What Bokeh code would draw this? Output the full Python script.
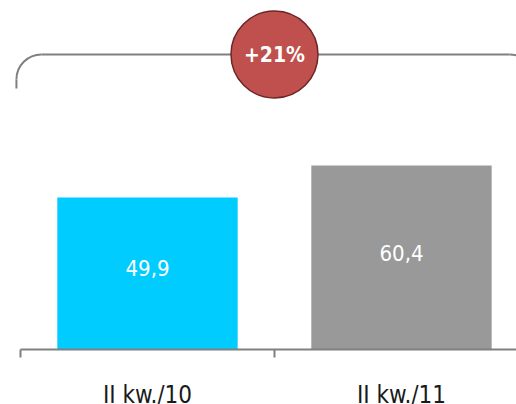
from bokeh.plotting import figure
from bokeh.models import Range1d, LinearAxis, FixedTicker, ColumnDataSource
from bokeh.core.properties import value
from bokeh.embed import file_html
from bokeh.resources import INLINE
import numpy as np

categories = ["II kw./10", "II kw./11"]
values = [49.9, 60.4]
value_labels = ["49,9", "60,4"]
colors = ["#00CCFF", "#999999"]
change_label = "+21%"

FONT = "DejaVu Sans Condensed"

W, H = 516, 404
x0, x1 = -0.5787, 1.4528
y0, y1 = -18.06, 114.58
sx = W / (x1 - x0)
sy = H / (y1 - y0)

p = figure(width=W, height=H, output_backend="svg", toolbar_location=None,
           x_range=Range1d(x0, x1), y_range=Range1d(y0, y1),
           x_axis_location=None, y_axis_location=None,
           min_border=0, min_border_left=0, min_border_right=0,
           min_border_top=0, min_border_bottom=0)
p.outline_line_color = None
p.xgrid.visible = False
p.ygrid.visible = False
p.background_fill_color = "white"

xs = list(range(len(categories)))
src = ColumnDataSource(dict(x=xs, top=values, color=colors, lab=value_labels,
                            ly=[v / 2 for v in values]))
p.vbar(x="x", top="top", bottom=0, width=0.71, fill_color="color", line_color=None, source=src)
p.text(x="x", y="ly", text="lab", source=src, text_color="white",
       text_font=value(FONT), text_font_size="22px",
       text_align="center", text_baseline="middle", y_offset=-5)

ax = LinearAxis(fixed_location=0)
ax.ticker = FixedTicker(ticks=xs, minor_ticks=[x - 0.5 for x in xs])
ax.major_label_overrides = {i: c for i, c in enumerate(categories)}
ax.axis_line_color = "#808080"
ax.axis_line_width = 2
ax.major_tick_line_color = None
ax.major_tick_out = 0
ax.major_tick_in = 0
ax.minor_tick_line_color = "#808080"
ax.minor_tick_line_width = 2
ax.minor_tick_out = 8
ax.minor_tick_in = 0
ax.major_label_standoff = 24
ax.major_label_text_font = FONT
ax.major_label_text_font_size = "24px"
ax.major_label_text_color = "#1a1a1a"
ax.bounds = (-0.5, 2.5)
p.add_layout(ax, "below")

# bracket
yt = 96.85
yb = 85.7
xl, xr = -0.516, 1.524
r = 25
p.segment(x0=[xl + r / sx], y0=[yt], x1=[xr - r / sx], y1=[yt], line_color="#808080", line_width=2)
p.segment(x0=[xl, xr], y0=[yt - r / sy, yt - r / sy], x1=[xl, xr], y1=[yb, yb], line_color="#808080", line_width=2)
p.arc(x=[xl + r / sx], y=[yt - r / sy], radius=r, radius_units="screen",
      start_angle=np.pi / 2, end_angle=np.pi, line_color="#808080", line_width=2)
p.arc(x=[xr - r / sx], y=[yt - r / sy], radius=r, radius_units="screen",
      start_angle=0, end_angle=np.pi / 2, line_color="#808080", line_width=2)

cx = 0.5
p.scatter(x=[cx], y=[yt], size=87, marker="circle", fill_color="#C0504D",
          line_color="#6B2625", line_width=1.5)
p.text(x=[cx], y=[yt], text=[change_label], text_color="white",
       text_font=value(FONT), text_font_style="bold", text_font_size="21px",
       text_align="center", text_baseline="middle")

open("out.html", "w").write(file_html(p, INLINE))
